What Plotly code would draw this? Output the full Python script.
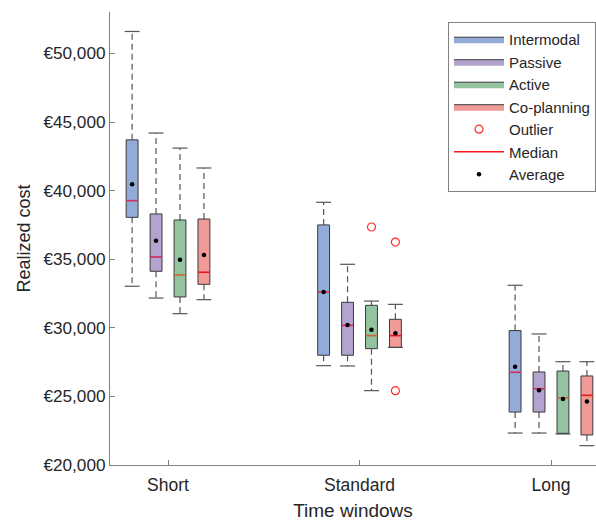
import plotly.graph_objects as go

categories = ["Short", "Standard", "Long"]
methods = ["Intermodal", "Passive", "Active", "Co-planning"]

upper_whisker = {
    "Intermodal": [51600, 39150, 33100],
    "Passive": [44200, 34630, 29550],
    "Active": [43100, 31950, 27530],
    "Co-planning": [41650, 31710, 27530],
}
q3 = {
    "Intermodal": [43700, 37500, 29800],
    "Passive": [38300, 31860, 26780],
    "Active": [37860, 31640, 26850],
    "Co-planning": [37930, 30620, 26490],
}
median = {
    "Intermodal": [39270, 32610, 26760],
    "Passive": [35160, 30180, 25560],
    "Active": [33850, 29430, 24900],
    "Co-planning": [34050, 29430, 25080],
}
q1 = {
    "Intermodal": [38050, 28000, 23860],
    "Passive": [34120, 28000, 23860],
    "Active": [32250, 28480, 22310],
    "Co-planning": [33170, 28580, 22190],
}
lower_whisker = {
    "Intermodal": [33030, 27240, 22330],
    "Passive": [32170, 27220, 22330],
    "Active": [31030, 25420, 22260],
    "Co-planning": [32050, 28580, 21410],
}
mean = {
    "Intermodal": [40460, 32610, 27170],
    "Passive": [36350, 30200, 25440],
    "Active": [34970, 29860, 24810],
    "Co-planning": [35310, 29600, 24620],
}
outlier_cat = ["Standard", "Standard", "Standard"]
outlier_method = ["Active", "Co-planning", "Co-planning"]
outlier_val = [37350, 36250, 25420]

y_tick_vals = [20000, 25000, 30000, 35000, 40000, 45000, 50000]
y_tick_text = ["€20,000", "€25,000", "€30,000", "€35,000", "€40,000", "€45,000", "€50,000"]

fills = {
    "Intermodal": "#92abd9",
    "Passive": "#b3a3cf",
    "Active": "#93c3a0",
    "Co-planning": "#f09b98",
}
# median line as it appears blended with each box colour
median_colors = {
    "Intermodal": "#d2305e",
    "Passive": "#d2285a",
    "Active": "#c46a30",
    "Co-planning": "#e81a1e",
}
edge = "#3a3a3a"
whisk = "#555555"
spacing = 0.125
hw = 0.031
cw = 0.039

def xpos(ci, mi):
    return ci + 1 + (mi - 1.5) * spacing

fig = go.Figure()

# whiskers (dashed) and caps
wx, wy, cx, cy = [], [], [], []
for mi, m in enumerate(methods):
    for ci in range(len(categories)):
        x = xpos(ci, mi)
        wx += [x, x, None, x, x, None]
        wy += [q3[m][ci], upper_whisker[m][ci], None, q1[m][ci], lower_whisker[m][ci], None]
        cx += [x - cw, x + cw, None, x - cw, x + cw, None]
        cy += [upper_whisker[m][ci]] * 2 + [None] + [lower_whisker[m][ci]] * 2 + [None]
fig.add_trace(go.Scatter(x=wx, y=wy, mode="lines", line=dict(color=whisk, width=1.2, dash="6px,4px"),
                         showlegend=False, hoverinfo="skip"))
fig.add_trace(go.Scatter(x=cx, y=cy, mode="lines", line=dict(color=whisk, width=1.2),
                         showlegend=False, hoverinfo="skip"))

# boxes
for mi, m in enumerate(methods):
    bx, by = [], []
    for ci in range(len(categories)):
        x = xpos(ci, mi)
        bx += [x - hw, x + hw, x + hw, x - hw, x - hw, None]
        by += [q1[m][ci], q1[m][ci], q3[m][ci], q3[m][ci], q1[m][ci], None]
    fig.add_trace(go.Scatter(x=bx, y=by, mode="lines", fill="toself", fillcolor=fills[m],
                             line=dict(color=edge, width=1), name=m, hoverinfo="skip"))

# outliers
ox = [xpos(categories.index(c), methods.index(mm)) for c, mm in zip(outlier_cat, outlier_method)]
fig.add_trace(go.Scatter(x=ox, y=outlier_val, mode="markers", name="Outlier",
                         marker=dict(symbol="circle-open", size=8, color="#ff2a2a", line=dict(width=1.2))))

# medians
for mi, m in enumerate(methods):
    mx, my = [], []
    for ci in range(len(categories)):
        x = xpos(ci, mi)
        mx += [x - hw, x + hw, None]
        my += [median[m][ci], median[m][ci], None]
    fig.add_trace(go.Scatter(x=mx, y=my, mode="lines", showlegend=False, hoverinfo="skip",
                             line=dict(color=median_colors[m], width=1.6)))
fig.add_trace(go.Scatter(x=[None], y=[None], mode="lines", name="Median",
                         line=dict(color="#ff1a1a", width=1.6)))

# means
ax, ay = [], []
for mi, m in enumerate(methods):
    for ci in range(len(categories)):
        ax.append(xpos(ci, mi))
        ay.append(mean[m][ci])
fig.add_trace(go.Scatter(x=ax, y=ay, mode="markers", name="Average",
                         marker=dict(symbol="circle", size=4.5, color="black")))

font = "Liberation Sans, Arial, sans-serif"
fig.update_layout(
    width=596, height=521,
    margin=dict(l=110, r=0, t=12, b=56),
    paper_bgcolor="white", plot_bgcolor="white",
    font=dict(family=font, size=17, color="#262626"),
    showlegend=True,
    legend=dict(x=1.0, y=0.978, xanchor="right", yanchor="top",
                bgcolor="white", bordercolor="#808080", borderwidth=1,
                font=dict(size=15, color="#262626"), itemwidth=50,
                tracegroupgap=0),
    xaxis=dict(range=[0.697, 3.235], tickvals=[1, 2, 3], ticktext=categories,
               showgrid=False, zeroline=False, showline=True, linecolor="#808080", linewidth=1,
               ticks="inside", ticklen=5, tickcolor="#808080", automargin=False,
               ticklabelstandoff=4,
               title=dict(text="Time windows", font=dict(size=19), standoff=10),
               tickfont=dict(size=17.5)),
    yaxis=dict(range=[20000, 53020], tickvals=y_tick_vals, ticktext=y_tick_text,
               showgrid=False, zeroline=False, showline=True, linecolor="#808080", linewidth=1,
               ticks="inside", ticklen=5, tickcolor="#808080", automargin=False,
               title=dict(text="Realized cost", font=dict(size=18), standoff=8),
               tickfont=dict(size=17.2)),
)

fig.write_html("out.html", config={"displayModeBar": False},
               post_script="document.body.style.margin='0';document.body.style.overflow='hidden';")
